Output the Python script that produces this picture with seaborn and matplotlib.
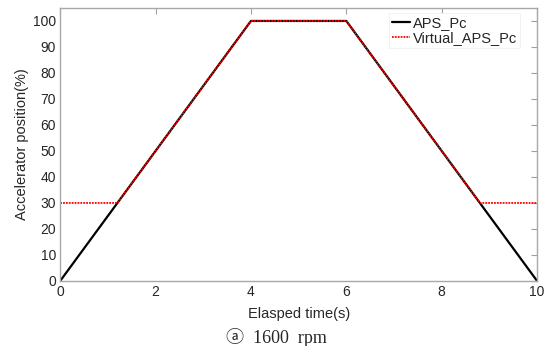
import matplotlib
matplotlib.use("Agg")
import matplotlib.pyplot as plt
import seaborn as sns
import pandas as pd

aps_time = [0, 4, 6, 10]
aps_val = [0, 100, 100, 0]
virt_time = [0, 1.2, 4, 6, 8.8, 10]
virt_val = [30, 30, 100, 100, 30, 30]
x_ticks = [0, 2, 4, 6, 8, 10]
y_ticks = [0, 10, 20, 30, 40, 50, 60, 70, 80, 90, 100]

sns.set_theme(style="white")
plt.rcParams['font.family'] = ['Liberation Sans', 'DejaVu Sans']

fig = plt.figure(figsize=(5.52, 3.46), dpi=100)
ax = fig.add_axes([0.109, 0.188, 0.864, 0.789])

sns.lineplot(x=aps_time, y=aps_val, ax=ax, color='black', linewidth=1.6,
             label='APS_Pc', sort=False, estimator=None)
sns.lineplot(x=virt_time, y=virt_val, ax=ax, color='#ff0000', linewidth=1.3,
             linestyle=(0, (1, 0.6)), label='Virtual_APS_Pc', sort=False, estimator=None)

ax.set_xlim(0, 10)
ax.set_ylim(0, 105)
ax.set_xticks(x_ticks)
ax.set_yticks(y_ticks)
ax.tick_params(direction='in', top=True, right=True, length=4, width=0.8,
               color='#a0a0a0', labelsize=10, pad=3)
for s in ax.spines.values():
    s.set_color('#a8a8a8')
    s.set_linewidth(1.0)

ax.set_xlabel('Elasped time(s)', fontsize=10.5, labelpad=5.5)
ax.set_ylabel('Accelerator position(%)', fontsize=10.5, labelpad=3)

leg = ax.legend(loc='upper right', bbox_to_anchor=(0.964, 0.982), fontsize=10.5,
                frameon=True, fancybox=False, edgecolor='#f0f0f0', framealpha=1.0,
                handlelength=1.2, handletextpad=0.2, borderaxespad=0.0,
                borderpad=0.2, labelspacing=0.1)
leg.get_frame().set_linewidth(0.6)

fig.text(0.5, 0.026, 'ⓐ  1600  rpm', ha='center', va='center', fontsize=13,
         family=['Liberation Serif', 'Noto Sans CJK SC', 'DejaVu Sans'])

fig.savefig('out.png', dpi=100)
